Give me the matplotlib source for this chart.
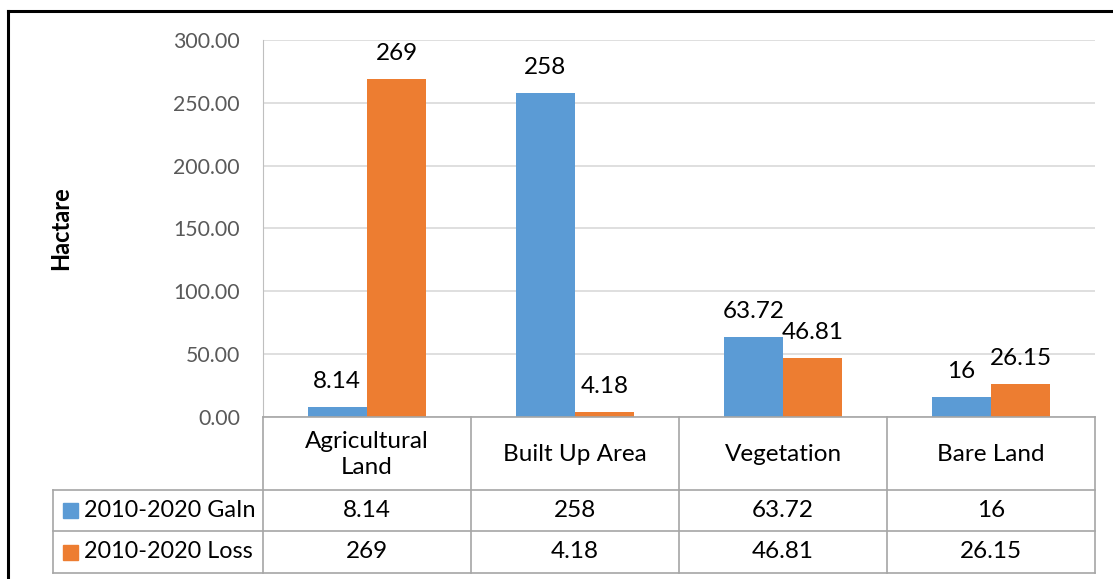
import matplotlib.pyplot as plt
from matplotlib.lines import Line2D
from matplotlib.patches import Rectangle
import numpy as np

# datos del gráfico
categorias = ["Agricultural\nLand", "Built Up Area", "Vegetation", "Bare Land"]
series = ["2010-2020 GaIn", "2010-2020 Loss"]
ganancia = [8.14, 258, 63.72, 16]
perdida = [269, 4.18, 46.81, 26.15]
etiquetas_ganancia = ["8.14", "258", "63.72", "16"]
etiquetas_perdida = ["269", "4.18", "46.81", "26.15"]
ticks_y = [0, 50, 100, 150, 200, 250, 300]

azul = "#5B9BD5"
naranja = "#ED7D31"
gris_tabla = "#a6a6a6"
fs = 17.5

plt.rcParams['font.family'] = ['Lato', 'DejaVu Sans']

W, H = 1113, 579
fig = plt.figure(figsize=(W / 100, H / 100), dpi=100)


def fx(px):
    return px / W


def fy(py):
    return 1 - py / H


# área del gráfico de barras
x0, x1, y_top, y_cero = 263, 1095, 40, 417
ax = fig.add_axes([fx(x0), fy(y_cero), fx(x1 - x0), (y_cero - y_top) / H])

x = np.arange(len(categorias))
ancho = 0.285
b1 = ax.bar(x - ancho / 2, ganancia, ancho, color=azul, zorder=3)
b2 = ax.bar(x + ancho / 2, perdida, ancho, color=naranja, zorder=3)

for barras, textos in [(b1, etiquetas_ganancia), (b2, etiquetas_perdida)]:
    for b, t in zip(barras, textos):
        ax.annotate(t, (b.get_x() + b.get_width() / 2, b.get_height()),
                    xytext=(0, 18.5), textcoords="offset points",
                    ha="center", va="center", fontsize=fs, color="black")

ax.set_xlim(-0.5, len(categorias) - 0.5)
ax.set_ylim(0, 300)
ax.set_yticks(ticks_y)
ax.set_yticklabels([f"{v:.2f}" for v in ticks_y], fontsize=15.3, color="#595959")
ax.tick_params(axis="y", length=0, pad=16.5)
ax.tick_params(axis="x", length=0, labelbottom=False)
ax.yaxis.grid(True, color="#d9d9d9", linewidth=1.2, zorder=0)
for s in ["top", "right", "bottom"]:
    ax.spines[s].set_visible(False)
ax.spines["left"].set_color("#bfbfbf")

fig.text(fx(61), fy((y_top + y_cero) / 2), "Hactare", rotation=90,
         ha="center", va="center", fontsize=17, fontweight="bold")

# tabla de datos debajo del gráfico
tx0 = 53
filas = [417, 490, 531, 573]
col_w = (x1 - x0) / len(categorias)
cols = [x0 + i * col_w for i in range(len(categorias) + 1)]

lineas = []
lineas.append(((x0, x1), (filas[0], filas[0])))
for fy_ in filas[1:]:
    lineas.append(((tx0, x1), (fy_, fy_)))
for c in cols:
    lineas.append(((c, c), (filas[0], filas[-1])))
lineas.append(((tx0, tx0), (filas[1], filas[-1])))
for xs, ys in lineas:
    fig.add_artist(Line2D([fx(v) for v in xs], [fy(v) for v in ys],
                          color=gris_tabla, linewidth=1.2))

for i, cat in enumerate(categorias):
    cx = (cols[i] + cols[i + 1]) / 2
    fig.text(fx(cx), fy((filas[0] + filas[1]) / 2 + 1), cat, ha="center",
             va="center", fontsize=fs, linespacing=1.35)
    fig.text(fx(cx), fy((filas[1] + filas[2]) / 2), etiquetas_ganancia[i],
             ha="center", va="center", fontsize=fs)
    fig.text(fx(cx), fy((filas[2] + filas[3]) / 2), etiquetas_perdida[i],
             ha="center", va="center", fontsize=fs)

for j, (nombre, color) in enumerate(zip(series, [azul, naranja])):
    cy = (filas[j + 1] + filas[j + 2]) / 2
    fig.add_artist(Rectangle((fx(63), fy(cy + 7.5)), fx(15), 15 / H,
                             color=color, transform=fig.transFigure))
    fig.text(fx(84), fy(cy), nombre, ha="left", va="center", fontsize=16.8)

# marco exterior
fig.add_artist(Line2D([fx(8), fx(W + 5)], [fy(11), fy(11)], color="black", linewidth=2.2))
fig.add_artist(Line2D([fx(8), fx(8)], [fy(11), fy(H + 5)], color="black", linewidth=2.2))

fig.savefig("out.png", dpi=100)
